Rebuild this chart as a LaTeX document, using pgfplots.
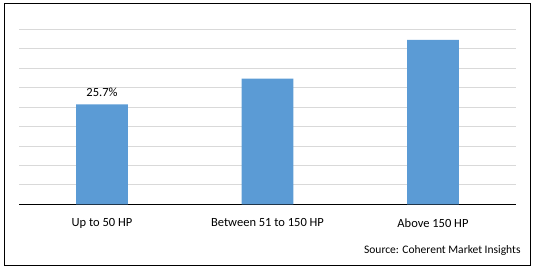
\documentclass[border=0pt]{standalone}
\usepackage{pgfplots}
\pgfplotsset{compat=1.18}
\usepackage{fontspec}
\setmainfont{Carlito}
\definecolor{barblue}{HTML}{5B9BD5}
\definecolor{gridgray}{HTML}{D9D9D9}
\begin{document}
\fontsize{11.5bp}{13bp}\selectfont
\begin{tikzpicture}[x=1bp,y=1bp]
\path[use as bounding box] (-19.3,-65.7) rectangle (515.7,204.3);
\begin{axis}[
  at={(0,0)}, anchor=south west,
  scale only axis, width=496.4bp, height=175bp,
  xmin=-0.5, xmax=2.5, ymin=0, ymax=45,
  ybar, bar width=51.7bp,
  xtick={0,1,2},
  xticklabels={Up to 50 HP, Between 51 to 150 HP, Above 150 HP},
  ytick={0,5,...,45}, yticklabels={},
  ymajorgrids, grid style={gridgray, line width=0.8bp},
  major tick length=0,
  axis x line=bottom, axis y line=left,
  axis line style={-},
  x axis line style={black, line width=0.8bp},
  y axis line style={draw=none},
  xticklabel style={font=\fontsize{12.5bp}{14bp}\selectfont, text=black, yshift=-10bp},
  nodes near coords, point meta=explicit symbolic,
  nodes near coords style={font=\fontsize{12.5bp}{14bp}\selectfont, text=black, yshift=4bp},
  clip=false,
]
\addplot[fill=barblue, draw=none, bar shift=0pt] coordinates {(0,25.7) [25.7\%] (1,32.3) [] (2,42.3) []};
\end{axis}
\draw[black, line width=1bp] (-15,-60.7) rectangle (511.4,201);
\node[anchor=base east, inner sep=0, font=\fontsize{11.5bp}{13bp}\selectfont] at (501.4,-49.5) {Source: Coherent Market Insights};
\end{tikzpicture}
\end{document}
